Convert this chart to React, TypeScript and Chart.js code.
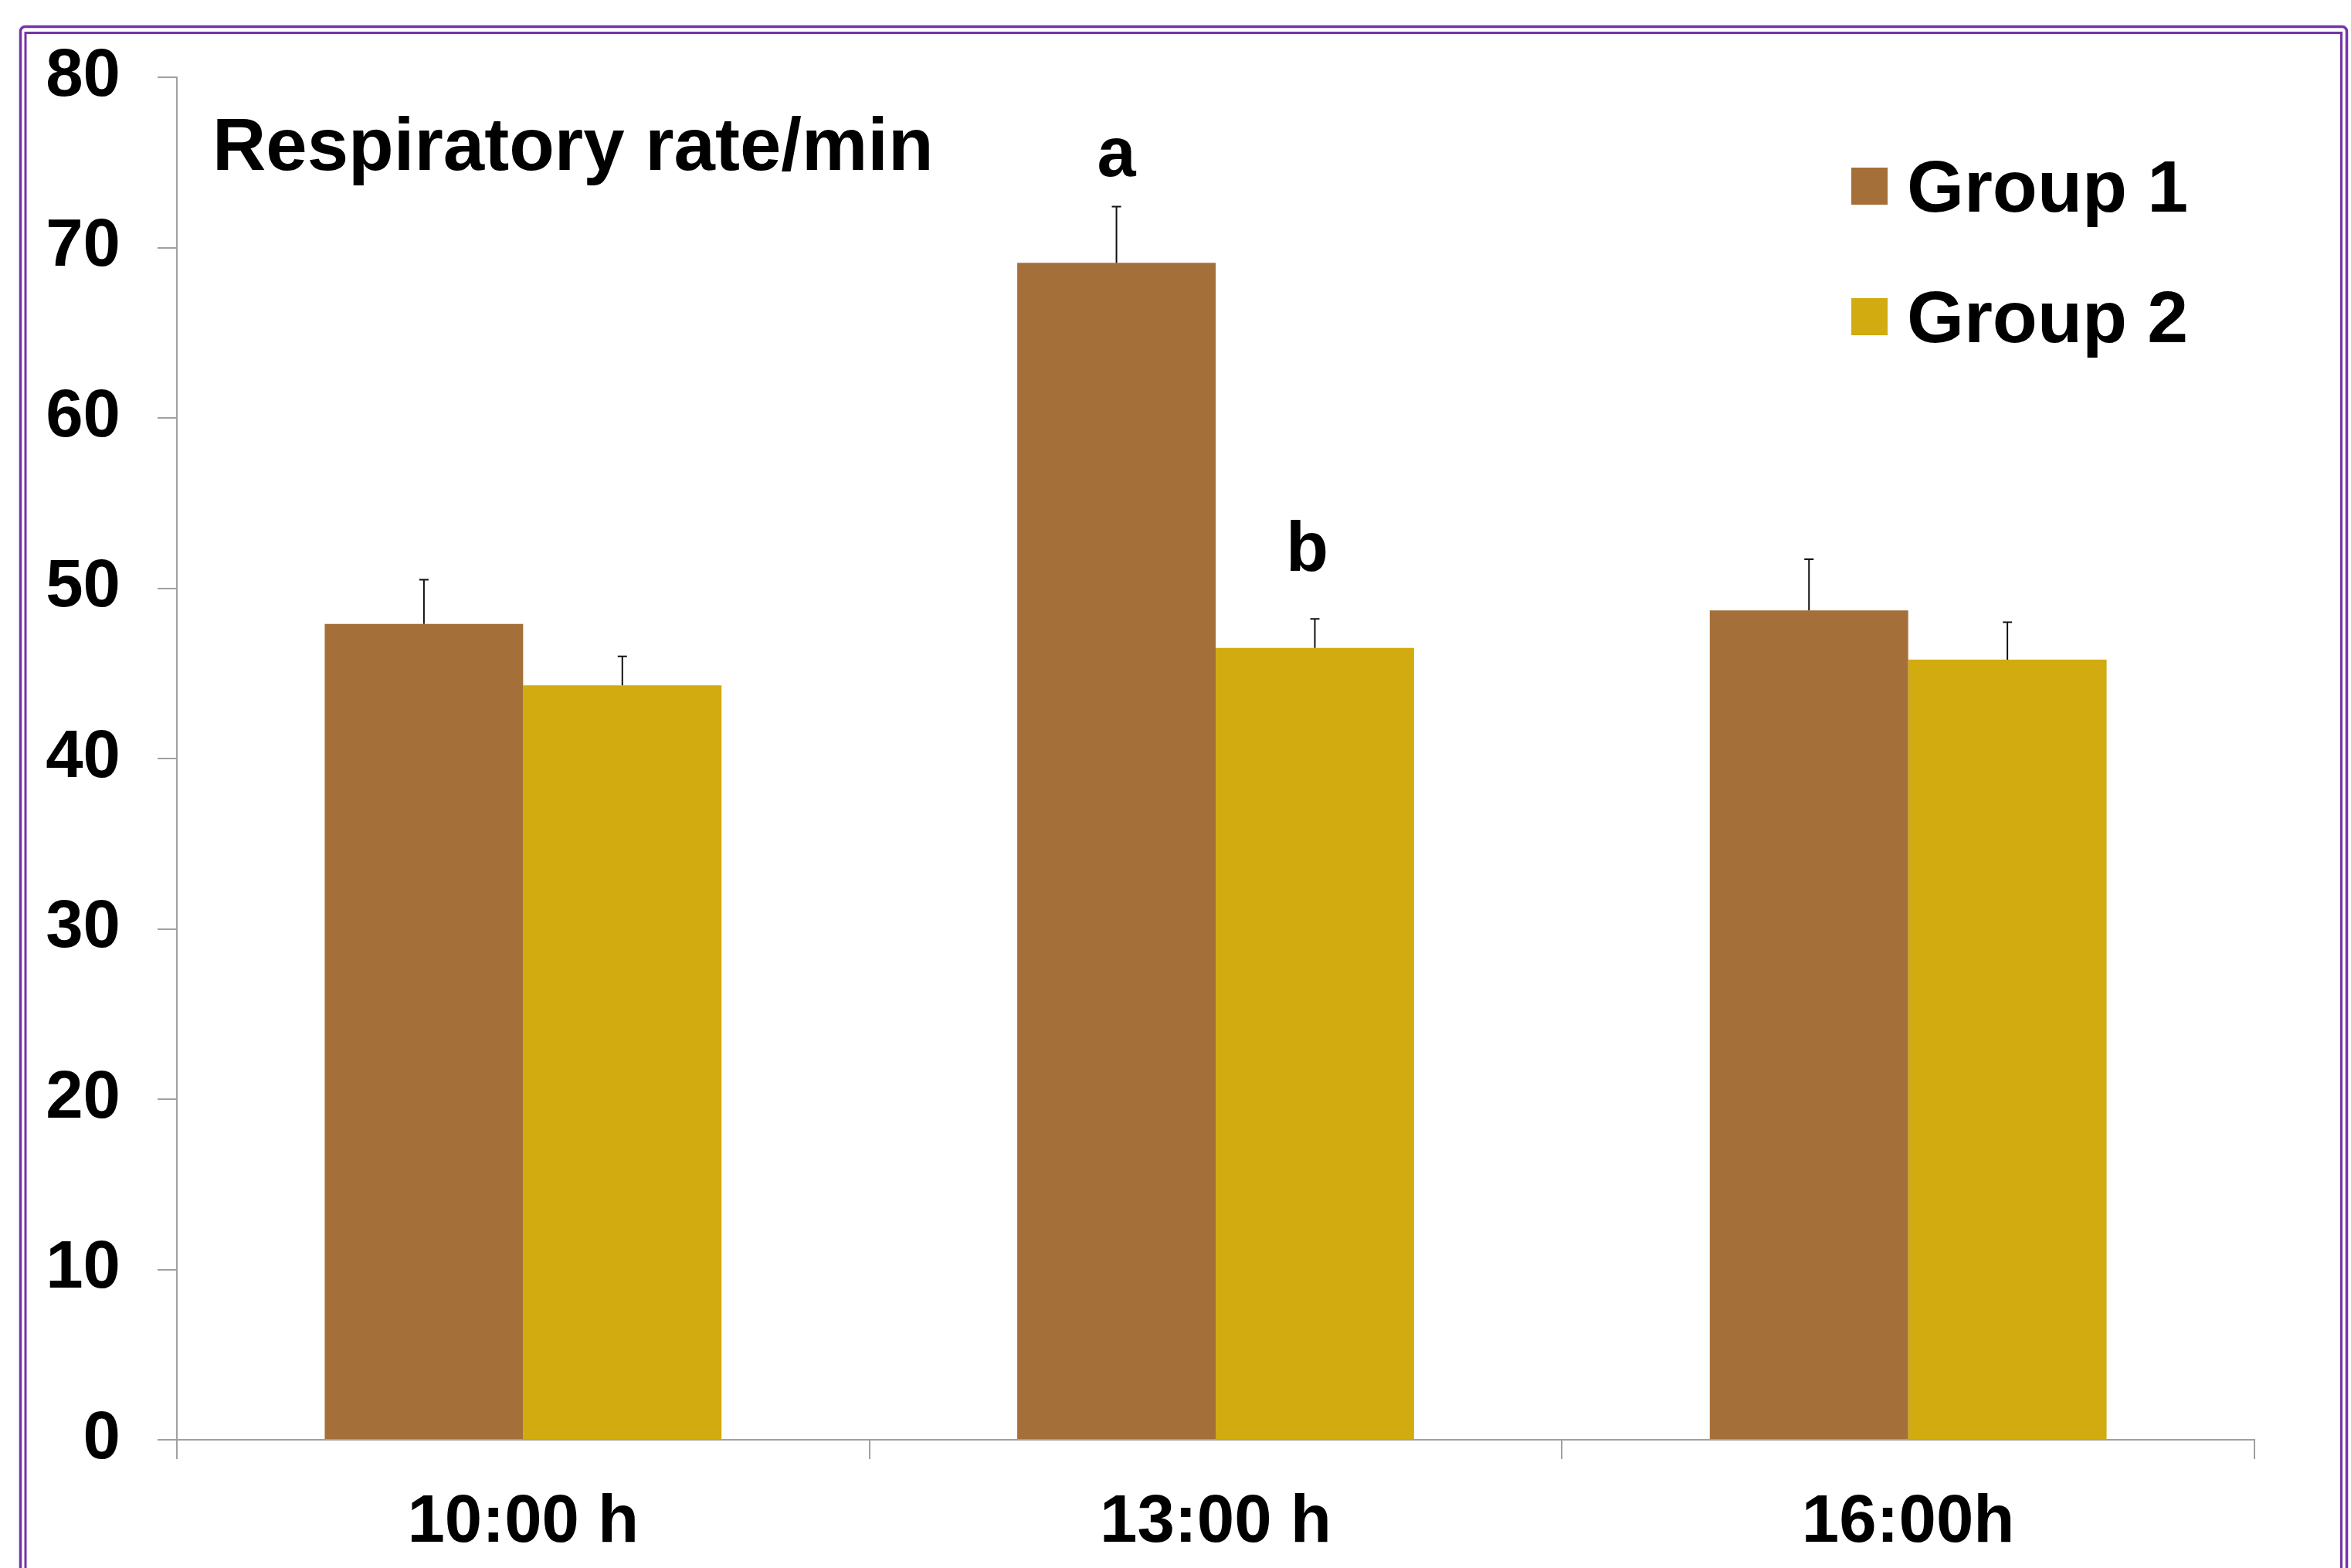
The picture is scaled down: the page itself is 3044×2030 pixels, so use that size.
import React, { useEffect, useRef } from 'react';
import { Chart, registerables } from 'chart.js';

Chart.register(...registerables);

// ---------- data ----------
const categories = ['10:00 h', '13:00 h', '16:00h'];
const seriesNames = ['Group 1', 'Group 2'];
const group1Values = [47.9, 69.1, 48.7];
const group2Values = [44.3, 46.5, 45.8];
const group1Errors = [2.6, 3.3, 3.0];
const group2Errors = [1.7, 1.7, 2.2];
const group1Marks = ['', 'a', ''];
const group2Marks = ['', 'b', ''];
const group1MarkLevels = [0, 74.2, 0];
const group2MarkLevels = [0, 51.0, 0];
const yMin = 0;
const yMax = 80;
const yStep = 10;
const chartTitle = 'Respiratory rate/min';

// ---------- style ----------
const FONT = '"Liberation Sans", Arial, Helvetica, sans-serif';
const COLORS = ['#A56F3A', '#D1AB10'];
const AXIS_GRAY = '#A0A0A0';
const PURPLE = '#7434A6';

const errorsBySeries = [group1Errors, group2Errors];
const marksBySeries = [group1Marks, group2Marks];
const markLevelsBySeries = [group1MarkLevels, group2MarkLevels];

const decorPlugin = {
  id: 'decor',
  beforeDraw(chart: any) {
    const ctx = chart.ctx;
    ctx.save();
    ctx.fillStyle = '#ffffff';
    ctx.fillRect(0, 0, chart.width, chart.height);
    // double purple frame
    ctx.strokeStyle = PURPLE;
    ctx.lineWidth = 3.5;
    ctx.beginPath();
    if (ctx.roundRect) {
      ctx.roundRect(26.5, 34.5, 3038.5 - 26.5, 2300, 6);
    } else {
      ctx.rect(26.5, 34.5, 3038.5 - 26.5, 2300);
    }
    ctx.stroke();
    ctx.lineWidth = 3;
    ctx.beginPath();
    ctx.rect(33, 42.5, 3031.5 - 33, 2300);
    ctx.stroke();
    ctx.restore();
  },
  afterDatasetsDraw(chart: any) {
    const ctx = chart.ctx;
    const yScale = chart.scales.y;
    ctx.save();
    chart.data.datasets.forEach((ds: any, i: number) => {
      const meta = chart.getDatasetMeta(i);
      const errs = errorsBySeries[i];
      meta.data.forEach((bar: any, j: number) => {
        const v = ds.data[j];
        const yTop = yScale.getPixelForValue(v + errs[j]);
        const yBar = yScale.getPixelForValue(v);
        ctx.strokeStyle = '#111111';
        ctx.lineWidth = 2;
        ctx.beginPath();
        ctx.moveTo(bar.x, yBar);
        ctx.lineTo(bar.x, yTop);
        ctx.moveTo(bar.x - 6, yTop);
        ctx.lineTo(bar.x + 6, yTop);
        ctx.stroke();
        const mark = marksBySeries[i][j];
        if (mark) {
          ctx.fillStyle = '#000000';
          ctx.font = `bold 90px ${FONT}`;
          ctx.textAlign = 'center';
          ctx.textBaseline = 'alphabetic';
          ctx.fillText(mark, bar.x - (i === 1 ? 10 : 0), yScale.getPixelForValue(markLevelsBySeries[i][j]));
        }
      });
    });
    ctx.restore();
  },
  afterDraw(chart: any) {
    const ctx = chart.ctx;
    ctx.save();
    ctx.fillStyle = '#000000';
    ctx.textAlign = 'left';
    ctx.textBaseline = 'alphabetic';
    ctx.font = `bold 96px ${FONT}`;
    ctx.fillText(chartTitle, 275, 220);
    // legend
    const rows = [
      { sq: 217, base: 274 },
      { sq: 386, base: 443 },
    ];
    seriesNames.forEach((name, i) => {
      ctx.fillStyle = COLORS[i];
      ctx.fillRect(2397, rows[i].sq, 47, 48);
      ctx.fillStyle = '#000000';
      ctx.font = `bold 95px ${FONT}`;
      ctx.fillText(name, 2469, rows[i].base);
    });
    ctx.restore();
  },
};

export default function App() {
  const canvasRef = useRef<HTMLCanvasElement | null>(null);

  useEffect(() => {
    const canvas = canvasRef.current;
    if (!canvas) return;
    const chart = new Chart(canvas, {
      type: 'bar',
      data: {
        labels: categories,
        datasets: [
          {
            label: seriesNames[0],
            data: group1Values,
            backgroundColor: COLORS[0],
            borderWidth: 0,
            barPercentage: 1.0,
            categoryPercentage: 0.573,
          },
          {
            label: seriesNames[1],
            data: group2Values,
            backgroundColor: COLORS[1],
            borderWidth: 0,
            barPercentage: 1.0,
            categoryPercentage: 0.573,
          },
        ],
      },
      options: {
        responsive: false,
        animation: false,
        devicePixelRatio: 1,
        layout: { padding: { left: 0, right: 125, top: 100, bottom: 0 } },
        plugins: {
          legend: { display: false },
          title: { display: false },
          tooltip: { enabled: false },
        },
        scales: {
          x: {
            offset: true,
            grid: {
              offset: true,
              drawOnChartArea: false,
              drawTicks: true,
              tickLength: 25,
              color: AXIS_GRAY,
              lineWidth: 2,
            },
            border: { display: true, color: AXIS_GRAY, width: 2 },
            ticks: {
              color: '#000000',
              font: { family: FONT, size: 87, weight: 'bold' },
              padding: 31,
              maxRotation: 0,
              autoSkip: false,
            },
            afterFit(scale: any) {
              scale.height = 166;
              scale.paddingLeft = 0;
              scale.paddingRight = 0;
            },
          },
          y: {
            min: yMin,
            max: yMax,
            ticks: {
              stepSize: yStep,
              color: '#000000',
              font: { family: FONT, size: 87, weight: 'bold' },
              padding: 48,
            },
            grid: {
              drawOnChartArea: false,
              drawTicks: true,
              tickLength: 25,
              color: AXIS_GRAY,
              lineWidth: 2,
            },
            border: { display: true, color: AXIS_GRAY, width: 2 },
            afterFit(scale: any) {
              scale.width = 229;
              scale.paddingTop = 0;
              scale.paddingBottom = 0;
            },
          },
        },
      },
      plugins: [decorPlugin],
    } as any);
    return () => {
      chart.destroy();
    };
  }, []);

  return (
    <div style={{ position: 'fixed', left: 0, top: 0, width: 3044, height: 2030, background: '#fff' }}>
      <canvas ref={canvasRef} width={3044} height={2030} style={{ display: 'block', width: 3044, height: 2030 }} />
    </div>
  );
}
